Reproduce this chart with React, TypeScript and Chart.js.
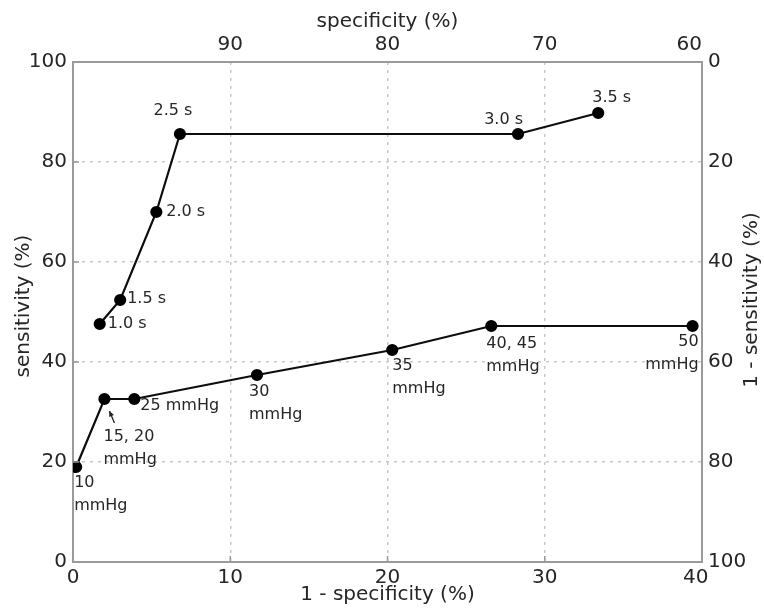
import React, { useEffect, useRef } from "react";
import { Chart, registerables } from "chart.js";

Chart.register(...registerables);

// ---- data ----
const timeLabels = ["1.0 s", "1.5 s", "2.0 s", "2.5 s", "3.0 s", "3.5 s"];
const timeFpr = [1.7, 3.0, 5.3, 6.8, 28.3, 33.4];
const timeSens = [47.6, 52.4, 70.0, 85.6, 85.6, 89.8];

const pressureLabels = [
  ["10", "mmHg"],
  ["15, 20", "mmHg"],
  ["25 mmHg"],
  ["30", "mmHg"],
  ["35", "mmHg"],
  ["40, 45", "mmHg"],
  ["50", "mmHg"],
];
const pressureFpr = [0.2, 2.0, 3.9, 11.7, 20.3, 26.6, 39.4];
const pressureSens = [19.0, 32.6, 32.6, 37.4, 42.4, 47.2, 47.2];

const bottomTicks = [0, 10, 20, 30, 40];
const topTicks = [90, 80, 70, 60];
const leftTicks = [0, 20, 40, 60, 80, 100];
const rightTicks = [0, 20, 40, 60, 80, 100];

const titleTop = "specificity (%)";
const titleBottom = "1 - specificity (%)";
const titleLeft = "sensitivity (%)";
const titleRight = "1 - sensitivity (%)";

// ---- label placement (style, not data) ----
const timePlace = [
  { dx: 8, dy: 0, align: "left" },
  { dx: 7, dy: -1, align: "left" },
  { dx: 10, dy: 0, align: "left" },
  { dx: -7, dy: -23, align: "center" },
  { dx: 5, dy: -14, align: "right" },
  { dx: -6, dy: -15, align: "left" },
];
const pressurePlace = [
  { dx: -2, dy: 16, align: "left" },
  { dx: -1, dy: 38, align: "left" },
  { dx: 6, dy: 7, align: "left" },
  { dx: -8, dy: 17, align: "left" },
  { dx: 0, dy: 16, align: "left" },
  { dx: -5, dy: 18, align: "left" },
  { dx: 6, dy: 16, align: "right" },
];

const FONT = "'DejaVu Sans', sans-serif";
const TEXT = "#262626";
const AXIS = "#9a9a9a";
const GRID = "#c8c8c8";

const overlay = {
  id: "overlay",
  afterDraw(chart: any) {
    const { ctx, scales, chartArea } = chart;
    const xs = scales.x;
    const ys = scales.y;
    ctx.save();
    // inward tick marks
    ctx.strokeStyle = AXIS;
    ctx.lineWidth = 1.5;
    ctx.beginPath();
    [10, 20, 30].forEach((v) => {
      const px = xs.getPixelForValue(v);
      ctx.moveTo(px, chartArea.bottom);
      ctx.lineTo(px, chartArea.bottom - 6);
    });
    [20, 40, 60, 80].forEach((v) => {
      const py = ys.getPixelForValue(v);
      ctx.moveTo(chartArea.left, py);
      ctx.lineTo(chartArea.left + 6, py);
    });
    ctx.stroke();

    // axis titles
    ctx.fillStyle = TEXT;
    ctx.font = `20px ${FONT}`;
    ctx.textAlign = "center";
    ctx.textBaseline = "middle";
    const cx = (chartArea.left + chartArea.right) / 2;
    ctx.fillText(titleTop, cx, 22);
    ctx.fillText(titleBottom, cx, 595);
    ctx.save();
    ctx.translate(24, 306);
    ctx.rotate(-Math.PI / 2);
    ctx.fillText(titleLeft, 0, 0);
    ctx.restore();
    ctx.save();
    ctx.translate(752, 300);
    ctx.rotate(-Math.PI / 2);
    ctx.fillText(titleRight, 0, 0);
    ctx.restore();

    // point labels
    ctx.font = `16px ${FONT}`;
    ctx.fillStyle = TEXT;
    ctx.textBaseline = "middle";
    timeLabels.forEach((lab, i) => {
      const p = timePlace[i];
      const px = xs.getPixelForValue(timeFpr[i]);
      const py = ys.getPixelForValue(timeSens[i]);
      ctx.textAlign = p.align;
      ctx.fillText(lab, px + p.dx, py + p.dy);
    });
    pressureLabels.forEach((lines, i) => {
      const p = pressurePlace[i];
      const px = xs.getPixelForValue(pressureFpr[i]);
      const py = ys.getPixelForValue(pressureSens[i]);
      ctx.textAlign = p.align;
      lines.forEach((ln, j) => {
        ctx.fillText(ln, px + p.dx, py + p.dy + j * 23);
      });
    });

    // arrow for "15, 20 mmHg"
    const ax = xs.getPixelForValue(pressureFpr[1]);
    const ay = ys.getPixelForValue(pressureSens[1]);
    const tx = ax + 10, ty = ay + 24;
    const hx = ax + 5, hy = ay + 12;
    ctx.strokeStyle = "#222";
    ctx.fillStyle = "#222";
    ctx.lineWidth = 1.3;
    ctx.beginPath();
    ctx.moveTo(tx, ty);
    ctx.lineTo(hx, hy);
    ctx.stroke();
    const ang = Math.atan2(hy - ty, hx - tx);
    ctx.beginPath();
    ctx.moveTo(hx, hy);
    ctx.lineTo(hx - 6 * Math.cos(ang - 0.45), hy - 6 * Math.sin(ang - 0.45));
    ctx.lineTo(hx - 6 * Math.cos(ang + 0.45), hy - 6 * Math.sin(ang + 0.45));
    ctx.closePath();
    ctx.fill();
    ctx.restore();
  },
};

const gridColor = (edgeVals: number[]) => (c: any) =>
  c.tick && edgeVals.includes(c.tick.value) ? "rgba(0,0,0,0)" : GRID;

export default function App() {
  const ref = useRef<HTMLCanvasElement>(null);
  useEffect(() => {
    if (!ref.current) return;
    const tickFont = { family: FONT, size: 20 };
    const ds = {
      showLine: true,
      borderColor: "#0d0d0d",
      backgroundColor: "#000",
      borderWidth: 2.2,
      pointRadius: 5,
      pointBackgroundColor: "#000",
      pointBorderColor: "#000",
      xAxisID: "x",
      yAxisID: "y",
    };
    const chart = new Chart(ref.current, {
      type: "scatter",
      data: {
        datasets: [
          { ...ds, label: "time", data: timeFpr.map((x, i) => ({ x, y: timeSens[i] })) },
          { ...ds, label: "pressure", data: pressureFpr.map((x, i) => ({ x, y: pressureSens[i] })) },
        ],
      },
      options: {
        animation: false,
        responsive: false,
        devicePixelRatio: 1,
        layout: { padding: 0 },
        plugins: {
          legend: { display: false },
          tooltip: { enabled: false },
        },
        scales: {
          x: {
            type: "linear",
            position: "bottom",
            min: 0,
            max: 40,
            afterBuildTicks: (s: any) => {
              s.ticks = bottomTicks.map((v) => ({ value: v }));
            },
            afterFit: (s: any) => {
              s.height = 52;
            },
            ticks: {
              font: tickFont,
              color: TEXT,
              padding: 4,
              maxRotation: 0,
              autoSkip: false,
              callback: (v: any) => (v === 40 ? "40  " : String(v)),
            },
            grid: { color: gridColor([0, 40]), lineWidth: 1.5, drawTicks: false },
            border: { display: true, color: AXIS, width: 2, dash: [3, 5] },
          },
          x2: {
            type: "linear",
            position: "top",
            min: 60,
            max: 100,
            reverse: true,
            afterBuildTicks: (s: any) => {
              s.ticks = topTicks.map((v) => ({ value: v }));
            },
            afterFit: (s: any) => {
              s.height = 62;
            },
            ticks: {
              font: tickFont,
              color: TEXT,
              padding: 5,
              maxRotation: 0,
              autoSkip: false,
              callback: (v: any) => (v === 60 ? "60    " : String(v)),
            },
            grid: { display: false, drawTicks: false },
            border: { display: true, color: AXIS, width: 2 },
          },
          y: {
            type: "linear",
            position: "left",
            min: 0,
            max: 100,
            afterBuildTicks: (s: any) => {
              s.ticks = leftTicks.map((v) => ({ value: v }));
            },
            afterFit: (s: any) => {
              s.width = 73;
            },
            ticks: { font: tickFont, color: TEXT, padding: 6, autoSkip: false },
            grid: { color: gridColor([0, 100]), lineWidth: 1.5, drawTicks: false },
            border: { display: true, color: AXIS, width: 2, dash: [3, 5] },
          },
          y2: {
            type: "linear",
            position: "right",
            min: 0,
            max: 100,
            reverse: true,
            afterBuildTicks: (s: any) => {
              s.ticks = rightTicks.map((v) => ({ value: v }));
            },
            afterFit: (s: any) => {
              s.width = 62;
            },
            ticks: { font: tickFont, color: TEXT, padding: 6, autoSkip: false },
            grid: { display: false, drawTicks: false },
            border: { display: true, color: AXIS, width: 2 },
          },
        },
      },
      plugins: [overlay],
    } as any);
    return () => chart.destroy();
  }, []);
  return (
    <div style={{ position: "fixed", left: 0, top: 0, width: 764, height: 614, background: "#fff" }}>
      <canvas ref={ref} width={764} height={614} />
    </div>
  );
}
